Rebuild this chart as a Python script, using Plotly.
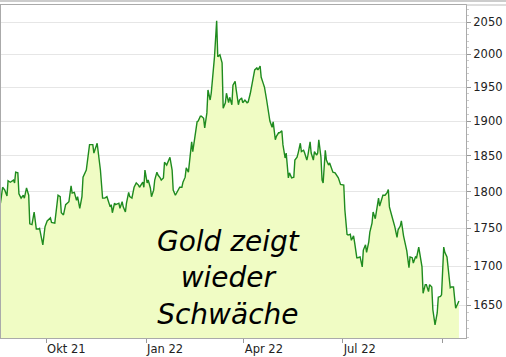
import plotly.graph_objects as go

dates = [
"2021-08-20","2021-08-22","2021-08-24","2021-08-26","2021-08-27","2021-08-29","2021-09-01","2021-09-02","2021-09-03","2021-09-05",
"2021-09-06","2021-09-08","2021-09-10","2021-09-11","2021-09-13","2021-09-15","2021-09-16","2021-09-18","2021-09-20","2021-09-22",
"2021-09-24","2021-09-25","2021-09-28","2021-09-30","2021-10-02","2021-10-05","2021-10-06","2021-10-09","2021-10-11","2021-10-12",
"2021-10-14","2021-10-15","2021-10-17","2021-10-19","2021-10-22","2021-10-24","2021-10-25","2021-10-27","2021-10-29","2021-10-30",
"2021-11-01","2021-11-03","2021-11-04","2021-11-07","2021-11-09","2021-11-10","2021-11-13","2021-11-14","2021-11-17","2021-11-18",
"2021-11-20","2021-11-22","2021-11-24","2021-11-26","2021-11-29","2021-11-30","2021-12-01","2021-12-03","2021-12-04","2021-12-07",
"2021-12-08","2021-12-10","2021-12-11","2021-12-13","2021-12-14","2021-12-16","2021-12-17","2021-12-19","2021-12-21","2021-12-23",
"2021-12-25","2021-12-26","2021-12-29","2021-12-30","2021-12-31","2022-01-02","2022-01-03","2022-01-05","2022-01-06","2022-01-08",
"2022-01-09","2022-01-11","2022-01-12","2022-01-14","2022-01-15","2022-01-17","2022-01-18","2022-01-20","2022-01-21","2022-01-23",
"2022-01-25","2022-01-26","2022-01-28","2022-01-29","2022-01-31","2022-02-01","2022-02-03","2022-02-04","2022-02-06","2022-02-07",
"2022-02-09","2022-02-10","2022-02-12","2022-02-13","2022-02-15","2022-02-17","2022-02-18","2022-02-20","2022-02-21","2022-02-23",
"2022-02-24","2022-02-26","2022-02-27","2022-03-01","2022-03-02","2022-03-04","2022-03-05","2022-03-07","2022-03-08","2022-03-10",
"2022-03-12","2022-03-13","2022-03-15","2022-03-16","2022-03-18","2022-03-19","2022-03-21","2022-03-22","2022-03-24","2022-03-25",
"2022-03-27","2022-03-28","2022-03-30","2022-03-31","2022-04-02","2022-04-04","2022-04-05","2022-04-07","2022-04-08","2022-04-10",
"2022-04-11","2022-04-13","2022-04-14","2022-04-16","2022-04-17","2022-04-19","2022-04-20","2022-04-22","2022-04-24","2022-04-25",
"2022-04-27","2022-04-28","2022-04-30","2022-05-01","2022-05-03","2022-05-04","2022-05-06","2022-05-07","2022-05-09","2022-05-10",
"2022-05-12","2022-05-13","2022-05-15","2022-05-17","2022-05-18","2022-05-20","2022-05-21","2022-05-23","2022-05-24","2022-05-26",
"2022-05-27","2022-05-29","2022-05-30","2022-06-01","2022-06-02","2022-06-04","2022-06-05","2022-06-07","2022-06-08","2022-06-09",
"2022-06-11","2022-06-12","2022-06-13","2022-06-15","2022-06-16","2022-06-18","2022-06-19","2022-06-21","2022-06-22","2022-06-24",
"2022-06-25","2022-06-27","2022-06-29","2022-06-30","2022-07-02","2022-07-03","2022-07-05","2022-07-06","2022-07-08","2022-07-09",
"2022-07-11","2022-07-12","2022-07-14","2022-07-15","2022-07-17","2022-07-19","2022-07-20","2022-07-22","2022-07-23","2022-07-25",
"2022-07-26","2022-07-28","2022-07-29","2022-07-31","2022-08-01","2022-08-03","2022-08-04","2022-08-06","2022-08-07","2022-08-09",
"2022-08-11","2022-08-12","2022-08-13","2022-08-15","2022-08-17","2022-08-18","2022-08-20","2022-08-21","2022-08-23","2022-08-24",
"2022-08-26","2022-08-27","2022-08-29","2022-08-31","2022-09-01","2022-09-03","2022-09-04","2022-09-06","2022-09-07","2022-09-09",
"2022-09-12","2022-09-13","2022-09-15","2022-09-16","2022-09-18","2022-09-19","2022-09-21","2022-09-22","2022-09-24","2022-09-26",
"2022-09-27","2022-09-29","2022-09-30","2022-10-02","2022-10-03","2022-10-05","2022-10-06","2022-10-08","2022-10-09","2022-10-11",
"2022-10-12","2022-10-13","2022-10-16",
]

prices = [
1784,1806,1802,1794,1815,1813,1816,1812,1827,1826,
1797,1791,1795,1791,1805,1795,1756,1755,1772,1749,
1749,1750,1728,1752,1760,1764,1758,1757,1782,1795,
1793,1771,1768,1782,1786,1808,1798,1799,1788,1793,
1777,1793,1820,1830,1854,1866,1866,1854,1868,1856,
1830,1791,1791,1793,1779,1782,1771,1784,1782,1784,
1777,1786,1779,1772,1784,1799,1793,1791,1806,1812,
1809,1806,1813,1806,1830,1812,1816,1805,1793,1802,
1816,1827,1823,1819,1816,1819,1841,1837,1840,1848,
1830,1802,1795,1798,1802,1806,1806,1813,1820,1833,
1827,1844,1870,1856,1876,1899,1900,1907,1907,1904,
1890,1912,1946,1931,1941,1973,1996,2052,1996,1999,
1987,1919,1927,1941,1927,1935,1924,1953,1959,1946,
1924,1931,1934,1927,1931,1927,1928,1941,1950,1964,
1976,1979,1976,1982,1965,1955,1950,1931,1906,1900,
1891,1899,1873,1878,1883,1883,1886,1866,1847,1854,
1819,1826,1819,1820,1844,1848,1854,1868,1856,1858,
1854,1844,1851,1870,1854,1844,1856,1851,1854,1873,
1848,1816,1812,1858,1844,1837,1840,1830,1827,1826,
1823,1819,1810,1810,1809,1775,1742,1741,1742,1734,
1740,1731,1711,1711,1712,1699,1721,1728,1718,1732,
1745,1757,1772,1763,1772,1791,1780,1793,1795,1795,
1799,1803,1779,1768,1759,1752,1738,1748,1753,1760,
1740,1732,1720,1698,1712,1711,1704,1712,1711,1725,
1699,1665,1676,1676,1667,1676,1673,1644,1625,1640,
1660,1661,1663,1725,1718,1712,1695,1672,1673,1673,
1659,1646,1655,
]

x_tick_vals = ["2021-10-01", "2022-01-01", "2022-04-01", "2022-07-01", "2022-10-01"]
x_tick_text = ["Okt 21", "Jan 22", "Apr 22", "Jul 22", ""]
y_tick_vals = [1650, 1700, 1750, 1800, 1850, 1900, 1950, 2000, 2050]
y_minor_vals = list(range(1610, 2080, 10))
title_lines = ["Gold zeigt", "wieder", "Schwäche"]

fig = go.Figure()
fig.add_trace(go.Scatter(
    x=[dates[0], dates[-1]], y=[1000, 1000], mode="lines",
    line=dict(width=0, color="rgba(0,0,0,0)"), showlegend=False, hoverinfo="skip"))
fig.add_trace(go.Scatter(
    x=dates, y=prices, mode="lines", fill="tonexty",
    fillcolor="rgb(240,252,196)",
    line=dict(color="#1f8b1f", width=1.4), showlegend=False))

tick_font = dict(family="DejaVu Sans", size=11.5, color="#222222")

fig.update_layout(
    width=506, height=357,
    margin=dict(l=1, r=40, t=5, b=19, autoexpand=False),
    paper_bgcolor="white", plot_bgcolor="white",
    showlegend=False,
    xaxis=dict(
        type="date",
        range=["2021-08-20 12:00", "2022-10-22 12:00"],
        tickmode="array", tickvals=x_tick_vals, ticktext=x_tick_text,
        ticks="outside", ticklen=4, tickcolor="#999999",
        ticklabelposition="outside right",
        showgrid=False, zeroline=False,
        showline=True, linecolor="#aaaaaa", linewidth=1, mirror=True,
        tickfont=tick_font,
    ),
    yaxis=dict(
        type="log", side="right",
        range=[3.2065, 3.31743],
        tickmode="array", tickvals=y_tick_vals,
        ticktext=[str(v) for v in y_tick_vals],
        ticks="outside", ticklen=4, tickcolor="#999999",
        showgrid=True, gridcolor="#e6e6e6", gridwidth=1,
        zeroline=False,
        showline=True, linecolor="#aaaaaa", linewidth=1, mirror=True,
        tickfont=tick_font,
        minor=dict(tickmode="array", tickvals=y_minor_vals, ticks="outside",
                   ticklen=2, tickcolor="#cccccc", showgrid=False),
    ),
)

fig.add_annotation(
    text="<br>".join(title_lines), xref="paper", yref="paper", x=0.4882, y=0.1802,
    xanchor="center", yanchor="middle", align="center", showarrow=False,
    font=dict(family="DejaVu Sans", size=28, color="black", style="italic"),
)

fig.add_shape(type="line", xref="paper", yref="paper",
              x0=-0.01, x1=1.1, y0=1.012, y1=1.012,
              line=dict(color="#999999", width=1))
fig.add_shape(type="line", xref="paper", yref="paper",
              x0=1.0, x1=1.1, y0=1.0, y1=1.0,
              line=dict(color="#bbbbbb", width=1))

fig.write_html(
    "out.html",
    config={"displayModeBar": False},
    post_script="document.body.style.margin='0';document.body.style.overflow='hidden';",
)
